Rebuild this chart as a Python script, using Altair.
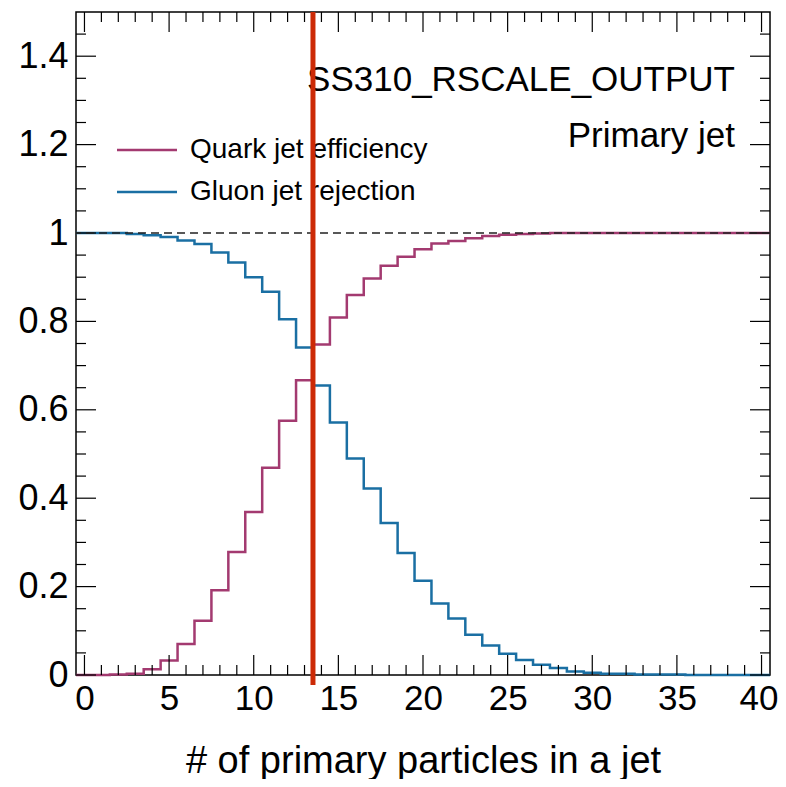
import altair as alt
import pandas as pd

# ---------------- data ----------------
bins = list(range(41))
quark_eff = [0.0, 0.0, 0.001, 0.003, 0.013, 0.033, 0.070, 0.123, 0.192, 0.278,
             0.369, 0.469, 0.575, 0.667, 0.748, 0.809, 0.860, 0.897, 0.926, 0.946,
             0.963, 0.976, 0.982, 0.988, 0.993, 0.996, 0.998, 0.999, 1.0, 1.0,
             1.0, 1.0, 1.0, 1.0, 1.0, 1.0, 1.0, 1.0, 1.0, 1.0, 1.0]
gluon_rej = [1.0, 1.0, 1.0, 0.998, 0.995, 0.991, 0.983, 0.975, 0.956, 0.933,
             0.900, 0.867, 0.805, 0.741, 0.655, 0.571, 0.490, 0.422, 0.344, 0.276,
             0.213, 0.162, 0.128, 0.091, 0.067, 0.048, 0.034, 0.023, 0.016, 0.008,
             0.005, 0.003, 0.003, 0.001, 0.001, 0.001, 0.0, 0.0, 0.0, 0.0, 0.0]
series_names = ["Quark jet efficiency", "Gluon jet rejection"]
series_colors = ["#a33a70", "#1a6fa3"]
cut_value = [13.5]
ref_value = [1.0]
x_major = list(range(0, 41, 5))
x_minor = [i for i in range(41) if i % 5]
y_major = [0, 0.2, 0.4, 0.6, 0.8, 1.0, 1.2, 1.4]
y_minor = [round(0.05 * i, 2) for i in range(1, 30) if i % 4]
header_texts = ["SS310_RSCALE_OUTPUT", "Primary jet"]
x_title = "# of primary particles in a jet"

W, H = 694, 663
FONT = "Liberation Sans"

rows = []
for name, vals in zip(series_names, (quark_eff, gluon_rej)):
    edges = [b - 0.5 for b in bins] + [bins[-1] + 0.5]
    ys = list(vals) + [vals[-1]]
    for e, v in zip(edges, ys):
        rows.append({"edge": e, "value": v, "series": name})
df = pd.DataFrame(rows)

xscale = alt.Scale(domain=[-0.5, 40.5], nice=False, zero=False)
yscale = alt.Scale(domain=[0, 1.5], nice=False, zero=False)
cscale = alt.Scale(domain=series_names, range=series_colors)

curves = alt.Chart(df).mark_line(interpolate="step-after", strokeWidth=2.5).encode(
    x=alt.X("edge:Q", scale=xscale,
            axis=alt.Axis(values=x_major, title=x_title, ticks=False, domain=False, grid=False,
                          labelFontSize=35, labelFont=FONT, labelPadding=6, labelFlush=False,
                          labelOffset={"condition": {"test": "datum.value == 40", "value": -3},
                                       "value": 0},
                          labelColor="black", titleFontSize=38, titleFont=FONT,
                          titleFontWeight="normal", titleColor="black", titlePadding=26)),
    y=alt.Y("value:Q", scale=yscale,
            axis=alt.Axis(values=y_major, format="~g", title=None, ticks=False, domain=False,
                          grid=False, labelFontSize=36, labelFont=FONT, labelPadding=8,
                          labelFlush=False, labelColor="black")),
    color=alt.Color("series:N", scale=cscale, legend=None),
)

ref_line = alt.Chart(pd.DataFrame({"y": ref_value})).mark_rule(
    strokeDash=[8, 5], color="#222222", strokeWidth=1.3
).encode(y=alt.Y("y:Q", scale=yscale))

cut_line = alt.Chart(pd.DataFrame({"x": cut_value})).mark_rule(
    color="#cc2a06", strokeWidth=5
).encode(x=alt.X("x:Q", scale=xscale), y=alt.value(0), y2=alt.value(H + 10))

# inward ROOT-style ticks
def xticks(vals, length):
    d = pd.DataFrame({"x": vals})
    bottom = alt.Chart(d).mark_rule(color="black", strokeWidth=1.2).encode(
        x=alt.X("x:Q", scale=xscale), y=alt.value(H), y2=alt.value(H - length))
    top = alt.Chart(d).mark_rule(color="black", strokeWidth=1.2).encode(
        x=alt.X("x:Q", scale=xscale), y=alt.value(0), y2=alt.value(length))
    return [bottom, top]

def yticks(vals, length):
    d = pd.DataFrame({"y": vals})
    left = alt.Chart(d).mark_rule(color="black", strokeWidth=1.2).encode(
        y=alt.Y("y:Q", scale=yscale), x=alt.value(0), x2=alt.value(length))
    right = alt.Chart(d).mark_rule(color="black", strokeWidth=1.2).encode(
        y=alt.Y("y:Q", scale=yscale), x=alt.value(W), x2=alt.value(W - length))
    return [left, right]

ticks = xticks(x_major, 20) + xticks(x_minor, 10) + yticks(y_major, 20) + yticks(y_minor, 10)

# legend
legend_layers = []
for name, ly in zip(series_names, [138, 180]):
    d = pd.DataFrame({"series": [name]})
    legend_layers.append(alt.Chart(d).mark_rule(strokeWidth=2.5).encode(
        x=alt.value(41), x2=alt.value(101), y=alt.value(ly),
        color=alt.Color("series:N", scale=cscale, legend=None)))
    legend_layers.append(alt.Chart(d).mark_text(
        align="left", baseline="middle", fontSize=28, font=FONT, color="black"
    ).encode(x=alt.value(114), y=alt.value(ly), text="series:N"))

header_layers = []
for t, hy in zip(header_texts, [68, 124]):
    header_layers.append(alt.Chart(pd.DataFrame({"t": [t]})).mark_text(
        align="right", baseline="middle", fontSize=35, font=FONT, color="black"
    ).encode(x=alt.value(659), y=alt.value(hy), text="t:N"))

chart = alt.layer(
    curves, *ticks, ref_line, *legend_layers, *header_layers, cut_line
).properties(
    width=W, height=H, autosize="none",
    padding={"left": 68, "top": 4, "right": 8, "bottom": 104},
).configure_view(stroke="black", strokeWidth=1.5)

chart.save("out.html", embed_options={"renderer": "svg", "actions": False})
